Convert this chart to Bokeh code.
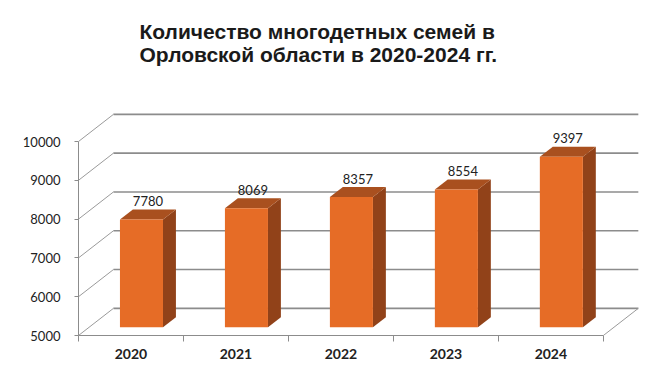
from bokeh.plotting import figure
from bokeh.models import FixedTicker, Range1d
from bokeh.embed import file_html
from bokeh.resources import INLINE
from bokeh.core.properties import value

# ---- data ----
title_lines = ["Количество многодетных семей в", "Орловской области в 2020-2024 гг."]
years = ["2020", "2021", "2022", "2023", "2024"]
families = [7780, 8069, 8357, 8554, 9397]
y_ticks = [5000, 6000, 7000, 8000, 9000, 10000]

# ---- 3D geometry (in data units) ----
Y0 = y_ticks[0]
DX, DY = 0.333, 700       # depth offset of the back wall
F0, F1 = 0.30, 0.67       # bar front/back depth fractions
HALF = 0.205              # half bar width (category units)

n = len(years)
centers = [i + 0.5 for i in range(n)]

p = figure(width=664, height=375, output_backend="svg", toolbar_location=None,
           x_range=Range1d(0, 5.43), y_range=Range1d(5000, 11495),
           min_border_left=78, min_border_right=16, min_border_top=83,
           min_border_bottom=40)
p.grid.visible = False
p.outline_line_color = None
p.background_fill_color = "white"
p.border_fill_color = "white"

p.title.text = "\n".join(title_lines)
p.title.align = "left"
p.title.offset = 61
p.title.text_font = "Liberation Sans"
p.title.text_font_style = "bold"
p.title.text_font_size = "21px"
p.title.text_color = "#1a1a1a"
p.title.standoff = 35

grid_col = "#8c8c8c"
# left wall diagonals
p.multi_line(xs=[[0, DX] for v in y_ticks], ys=[[v, v + DY] for v in y_ticks],
             line_color="#9a9a9a", line_width=1)
# back wall horizontals
p.multi_line(xs=[[DX, n + DX] for v in y_ticks], ys=[[v + DY, v + DY] for v in y_ticks],
             line_color=grid_col, line_width=1.6)
# floor right diagonal
p.line(x=[n, n + DX], y=[Y0, Y0 + DY], line_color="#9a9a9a", line_width=1)

d = F1 - F0
front_l, front_r, bots, tops = [], [], [], []
top_xs, top_ys, side_xs, side_ys = [], [], [], []
lab_x, lab_y = [], []
for c, v in zip(centers, families):
    cx = c + F0 * DX
    l, r = cx - HALF, cx + HALF
    b, t = Y0 + F0 * DY, v + F0 * DY
    front_l.append(l); front_r.append(r); bots.append(b); tops.append(t)
    top_xs.append([l, r, r + d * DX, l + d * DX])
    top_ys.append([t, t, t + d * DY, t + d * DY])
    side_xs.append([r, r + d * DX, r + d * DX, r])
    side_ys.append([b, b + d * DY, t + d * DY, t])
    lab_x.append(cx + d * DX / 2)
    lab_y.append(v + F1 * DY + 90)

p.patches(xs=side_xs, ys=side_ys, fill_color="#914219", line_color=None)
p.patches(xs=top_xs, ys=top_ys, fill_color="#A9501F", line_color=None)
p.quad(left=front_l, right=front_r, bottom=bots, top=tops,
       fill_color="#E66C26", line_color=None)

p.text(x=lab_x, y=lab_y, text=[str(v) for v in families],
       text_align="center", text_baseline="bottom",
       text_font=value("Lato"), text_font_size="13px", text_color="#222222")

# y axis
ya = p.yaxis[0]
ya.ticker = FixedTicker(ticks=y_ticks)
ya.bounds = (y_ticks[0], y_ticks[-1])
ya.major_label_overrides = {t: str(t) for t in y_ticks}
ya.axis_line_color = grid_col
ya.major_tick_line_color = grid_col
ya.major_tick_out = 4
ya.major_tick_in = 0
ya.minor_tick_line_color = None
ya.major_label_standoff = 14
ya.major_label_text_font = "Lato"
ya.major_label_text_font_size = "13px"
ya.major_label_text_color = "#222222"

# x axis
xa = p.xaxis[0]
xa.ticker = FixedTicker(ticks=centers, minor_ticks=list(range(n + 1)))
xa.bounds = (0, n)
xa.major_label_overrides = {c: y for c, y in zip(centers, years)}
xa.axis_line_color = grid_col
xa.major_tick_line_color = None
xa.major_tick_out = 0
xa.major_tick_in = 0
xa.minor_tick_line_color = grid_col
xa.minor_tick_out = 6
xa.minor_tick_in = 0
xa.major_label_standoff = 7
xa.major_label_text_font = "Lato"
xa.major_label_text_font_style = "bold"
xa.major_label_text_font_size = "14px"
xa.major_label_text_color = "#222222"

open("out.html", "w").write(file_html(p, INLINE))
